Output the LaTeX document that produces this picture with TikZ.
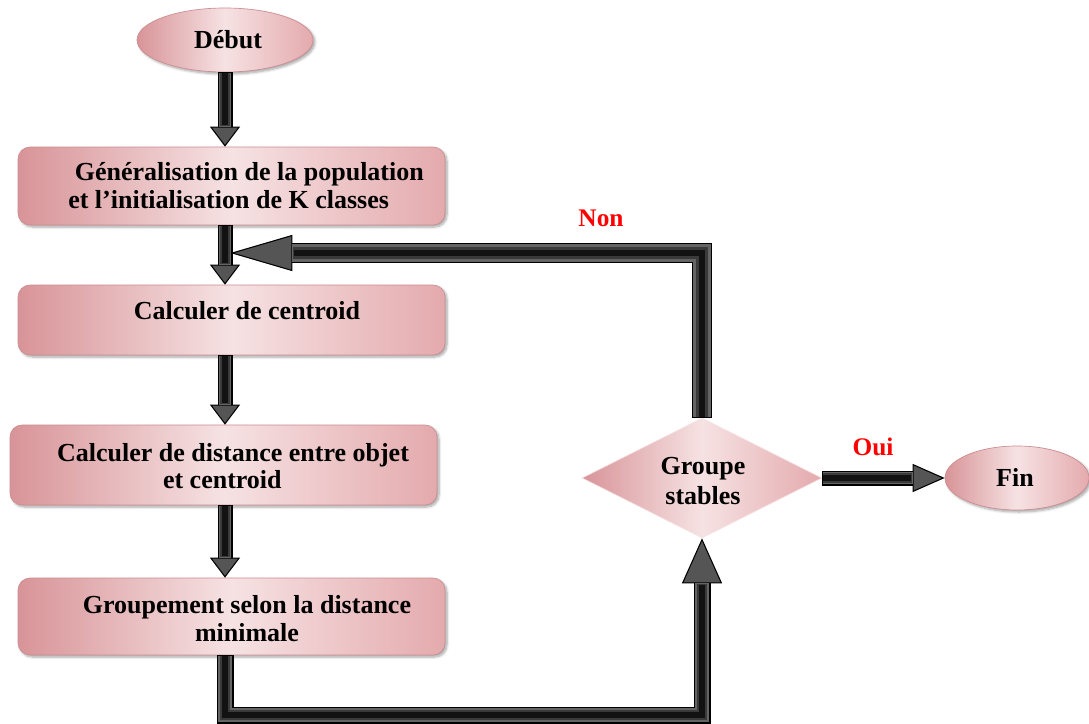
\documentclass[tikz,border=0pt]{standalone}
\usepackage{fontspec}
\setmainfont{Liberation Serif}
\usetikzlibrary{shapes.geometric,arrows.meta,shadows.blur}

\definecolor{pinkD}{RGB}{216,148,152}
\definecolor{pinkM}{RGB}{228,170,173}
\definecolor{pinkL}{RGB}{246,226,227}
\definecolor{pinkB}{RGB}{205,140,144}
\definecolor{pipeA}{RGB}{100,100,100}
\definecolor{pipeB}{RGB}{58,58,58}
\definecolor{pipeC}{RGB}{18,18,18}

\tikzset{
  lbl/.style={font=\bfseries\fontsize{19.5}{21}\selectfont, text=black, inner sep=0pt},
  redlbl/.style={font=\bfseries\fontsize{19}{21}\selectfont, text=red, inner sep=0pt},
  stepbox/.style={rectangle, rounded corners=9pt, draw=pinkB, line width=0.5pt,
    left color=pinkD, right color=pinkM, middle color=pinkL,
    blur shadow={shadow xshift=1.5pt, shadow yshift=-1.5pt, shadow blur steps=6, shadow opacity=35},
    minimum width=320.25pt, inner sep=0pt},
  terminal/.style={ellipse, draw=pinkB, line width=0.5pt,
    left color=pinkD, right color=pinkM, middle color=pinkL,
    blur shadow={shadow xshift=1.5pt, shadow yshift=-1.5pt, shadow blur steps=6, shadow opacity=35},
    inner sep=0pt},
  test/.style={diamond, draw=pinkL, line width=0.5pt,
    left color=pinkD, right color=pinkM, middle color=pinkL,
    minimum width=180pt, minimum height=90pt, inner sep=0pt},
  % block arrow: #1 shaft width, #2 head length, #3 head width
  pipe/.style n args={3}{draw=black, line width=#1, line join=miter,
    -{Triangle[length=#2, width=#3, fill=pipeA!85!black, line width=0.8pt]},
    postaction={draw=pipeA, line width=#1-1.6pt, -, shorten >=#2-0.4pt, shorten <=0.8pt},
    postaction={draw=pipeB, line width=0.62*#1, -, shorten >=#2+0.5pt, shorten <=0.8pt},
    postaction={draw=pipeC, line width=0.34*#1, -, shorten >=#2+1pt, shorten <=0.8pt}},
}

\begin{document}
\begin{tikzpicture}[x=0.75pt, y=-0.75pt]
\useasboundingbox (0,0) rectangle (1089,724);

% nodes
\node[terminal, minimum width=132pt, minimum height=48pt] (debut) at (225,40) {};
\node[lbl] (tdebut) at (228,40) {Début};

\node[stepbox, minimum height=58.5pt] (g1) at (231.5,186) {};
\node[lbl, anchor=west, align=left] (t1) at (68,186)
  {\hspace*{5pt}Généralisation de la population\\et l’initialisation de K classes};

\node[stepbox, minimum height=52.5pt] (g2) at (231.5,320) {};
\node[lbl] (t2) at (247,311) {Calculer de centroid};

\node[stepbox, minimum height=60pt] (g3) at (223.5,465) {};
\node[lbl, align=center] (t3) at (233,466) {Calculer de distance entre objet\\[-1pt]\hspace*{-16pt}et centroid};

\node[stepbox, minimum height=57.75pt] (g4) at (231.5,616.5) {};
\node[lbl, align=center] (t4) at (247,619) {Groupement selon la distance\\minimale};

\node[test] (dia) at (702,478) {};
\node[lbl, align=center] (tdia) at (703,481) {Groupe\\[1pt]stables};

\node[terminal, minimum width=108pt, minimum height=48pt] (fin) at (1017,478) {};
\node[lbl] (tfin) at (1015,477) {Fin};

\node[redlbl] (non) at (601,218) {Non};
\node[redlbl] (oui) at (873,447) {Oui};

% joints of the loops
\coordinate (merge) at (225,253);
\coordinate (lowR) at (702,715);

% connectors
\draw[pipe={11.25pt}{15pt}{22.5pt}] (debut.south) -- (debut.south |- g1.north);
\draw[pipe={11.25pt}{15pt}{22.5pt}] (g1.south -| merge) -- (g2.north -| merge);
\draw[pipe={11.25pt}{15pt}{22.5pt}] (g2.south -| merge) -- (g3.north -| merge);
\draw[pipe={11.25pt}{15pt}{22.5pt}] (g3.south -| merge) -- (g4.north -| merge);
\draw[pipe={12.75pt}{33.75pt}{30pt}] (g4.south -| merge) |- (lowR) -- (dia.south);
\draw[pipe={15pt}{46.5pt}{27pt}] (dia.north) |- ([xshift=4]merge);
\draw[pipe={11.25pt}{24pt}{21pt}] (dia.east) -- (fin.west);
\end{tikzpicture}
\end{document}
